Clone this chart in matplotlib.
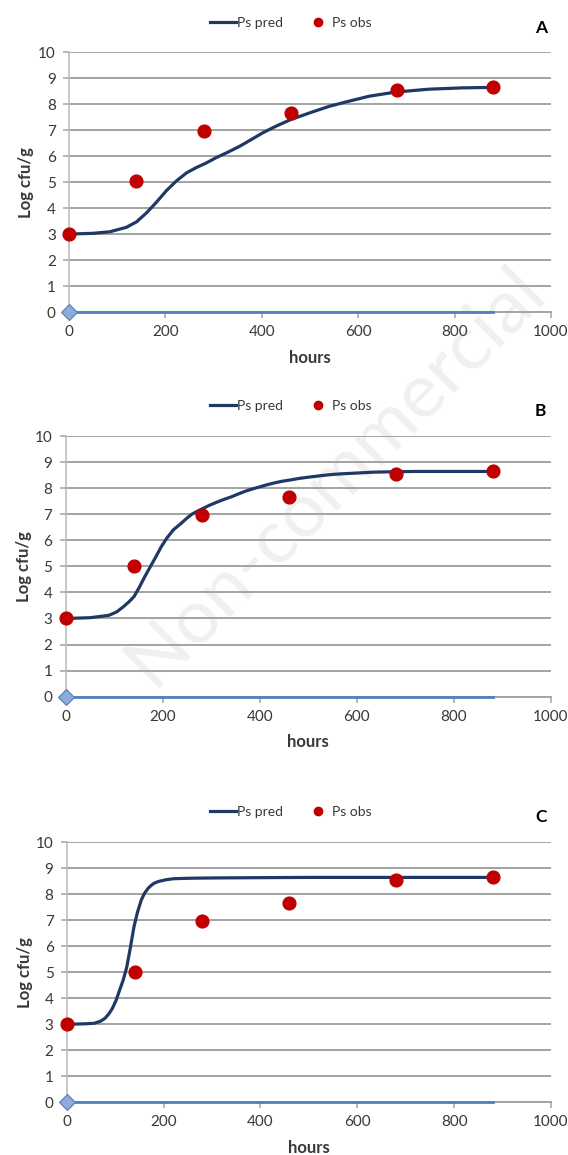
import matplotlib
matplotlib.use("Agg")
import matplotlib.pyplot as plt
from matplotlib.lines import Line2D

plt.rcParams['font.family'] = ['Lato', 'DejaVu Sans']

# ---- data ----
obs_hours = [0, 140, 280, 460, 680, 880]
obs_log = [3.0, 5.03, 6.97, 7.66, 8.56, 8.66]

predA_hours = [0, 50, 85, 119, 140, 161, 182, 202, 223, 244, 264, 285, 306, 327, 354, 380, 402, 430, 460, 506, 540, 575, 623, 678, 747, 816, 880]
predA_log = [3.0, 3.03, 3.09, 3.26, 3.47, 3.82, 4.24, 4.67, 5.05, 5.36, 5.56, 5.74, 5.95, 6.13, 6.38, 6.66, 6.9, 7.16, 7.41, 7.71, 7.92, 8.09, 8.31, 8.47, 8.58, 8.63, 8.65]

predB_hours = [0, 50, 89, 105, 119, 130, 141, 152, 163, 175, 186, 197, 208, 222, 238, 250, 260, 272, 283, 296, 310, 325, 342, 355, 370, 385, 402, 415, 430, 445, 462, 480, 500, 518, 536, 553, 570, 590, 611, 630, 650, 685, 720, 750, 800, 880]
predB_log = [3.0, 3.03, 3.12, 3.25, 3.45, 3.63, 3.84, 4.2, 4.6, 5.0, 5.37, 5.75, 6.07, 6.4, 6.65, 6.85, 7.0, 7.12, 7.22, 7.34, 7.45, 7.56, 7.67, 7.77, 7.88, 7.97, 8.06, 8.13, 8.2, 8.26, 8.31, 8.37, 8.42, 8.46, 8.5, 8.53, 8.55, 8.57, 8.59, 8.61, 8.62, 8.63, 8.64, 8.64, 8.64, 8.64]

predC_hours = [0, 40, 57, 70, 79, 87, 94, 102, 109, 117, 124, 131, 139, 146, 154, 161, 169, 175, 180, 186, 191, 198, 205, 213, 221, 240, 260, 311, 400, 500, 600, 700, 800, 880]
predC_log = [3.0, 3.02, 3.04, 3.12, 3.23, 3.4, 3.6, 3.92, 4.3, 4.72, 5.2, 5.9, 6.76, 7.3, 7.78, 8.05, 8.25, 8.35, 8.42, 8.47, 8.5, 8.53, 8.56, 8.58, 8.6, 8.61, 8.62, 8.63, 8.64, 8.65, 8.65, 8.65, 8.65, 8.65]

zero_hours = [0, 880]
zero_log = [0, 0]

x_ticks = [0, 200, 400, 600, 800, 1000]
y_ticks = list(range(0, 11))
panel_labels = ['A', 'B', 'C']
legend_labels = ['Ps pred', 'Ps obs']
xlabel = 'hours'
ylabel = 'Log cfu/g'

# ---- styling ----
navy = '#1F3864'
red = '#C00000'
grid_c = '#A3A3A3'
spine_c = '#B8B8B8'
base_blue = '#4F81BD'
diamond_c = '#8EA9DB'
txt_c = '#383838'

fig = plt.figure(figsize=(5.68, 11.55), dpi=100)
W, H = 568.0, 1155.0

# watermark (behind everything)
fig.text(335 / W, 1 - 475 / H, 'Non-commercial', rotation=45, fontsize=55,
         color='#F0F0F0', ha='center', va='center', zorder=-10)

# axes boxes in pixels: (left, top, right, bottom)
boxes = [(69, 52.3, 551, 312), (65.6, 436, 551, 696.7), (66.7, 842.3, 551, 1102.3)]
legend_y = [23, 405.7, 812.3]
letter_y = [28.3, 410.7, 816.7]
hours_y = [358.3, 741.7, 1147.7]
ylabel_x = [26, 24, 25]
preds = [(predA_hours, predA_log), (predB_hours, predB_log), (predC_hours, predC_log)]

for i, (l, t, r, b) in enumerate(boxes):
    ax = fig.add_axes([l / W, 1 - b / H, (r - l) / W, (b - t) / H])
    ax.patch.set_alpha(0)
    ax.set_zorder(1)
    ax.set_xlim(0, 1000)
    ax.set_ylim(0, 10)
    for yv in y_ticks[1:]:
        ax.axhline(yv, color=grid_c, lw=1.4, zorder=1)
    for s in ['top', 'right']:
        ax.spines[s].set_visible(False)
    ax.spines['left'].set_color(spine_c)
    ax.spines['left'].set_linewidth(1.1)
    ax.spines['bottom'].set_color(grid_c)
    ax.spines['bottom'].set_linewidth(1.4)
    ax.set_xticks(x_ticks)
    ax.set_yticks(y_ticks)
    ax.tick_params(axis='both', colors=grid_c, labelcolor=txt_c, labelsize=11,
                   length=4.5, width=1.1, direction='out')
    ax.tick_params(axis='x', pad=5)
    ax.tick_params(axis='y', pad=5)

    ph, pl = preds[i]
    ax.plot(zero_hours, zero_log, color=base_blue, lw=2, zorder=3, clip_on=False)
    ax.plot([zero_hours[0]], [zero_log[0]], marker='D', ms=7.8, color=diamond_c,
            mec=base_blue, mew=0.8, zorder=6, clip_on=False)
    ax.plot(ph, pl, color=navy, lw=2.3, zorder=4, clip_on=False,
            solid_joinstyle='round', solid_capstyle='round')
    ax.plot(obs_hours, obs_log, 'o', color=red, ms=9.2, mec=red, zorder=5, clip_on=False)

    fig.text((l + r) / 2 / W, 1 - hours_y[i] / H, xlabel, ha='center', va='center',
             fontsize=12, fontweight='bold', color=txt_c)
    fig.text(ylabel_x[i] / W, 1 - (t + b) / 2 / H, ylabel, ha='center', va='center',
             rotation=90, fontsize=12, fontweight='bold', color=txt_c)
    fig.text(540.7 / W, 1 - letter_y[i] / H, panel_labels[i], ha='center', va='center',
             fontsize=12.5, fontweight='bold', color='black')

    handles = [Line2D([], [], color=navy, lw=2.3),
               Line2D([], [], ls='none', marker='o', color=red, ms=6)]
    fig.legend(handles, legend_labels, loc='center', ncol=2, frameon=False,
               bbox_to_anchor=(291 / W, 1 - legend_y[i] / H), fontsize=10,
               handlelength=1.9, handletextpad=0.05, columnspacing=1.6,
               labelcolor=txt_c)

fig.savefig('out.png', dpi=100, facecolor='white')
